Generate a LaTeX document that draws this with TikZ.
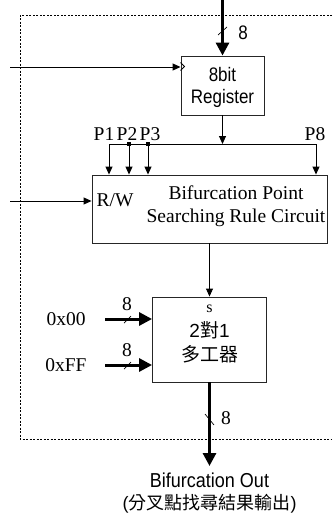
\documentclass[tikz,border=0pt]{standalone}
\usepackage{fontspec}
\setmainfont{Liberation Serif}
\newfontfamily\arialf{Liberation Sans}
\newfontfamily\cjkf{Noto Sans CJK TC}
\usetikzlibrary{arrows.meta,calc}
\begin{document}
\begin{tikzpicture}[x=1pt,y=-1pt,
  box/.style={draw=black!85, line width=0.9pt, inner sep=0pt},
  wire/.style={line width=0.9pt, -{Triangle[length=8pt,width=7pt]}},
  plain/.style={line width=0.9pt},
  buswire/.style={line width=3pt, -{Triangle[length=13pt,width=13pt]}},
  frame/.style={line width=0.8pt, dash pattern=on 2pt off 1.5pt},
  slash/.style={line width=0.7pt},
  serif/.style={font=\fontsize{19.5}{23}\selectfont},
  sans/.style={font=\arialf\fontsize{17}{23}\selectfont},
  lbl/.style={inner sep=0pt}
]
\useasboundingbox (0,0) rectangle (332,514);
% dashed frame (open on the right)
\draw[frame] (332,15) -- (20,15) -- (20,439) -- (332,439);

% register
\node[box, minimum width=83pt, minimum height=59pt] (reg) at (222.5,85.5) {};
\node[lbl, sans] (regt1) at (222.5,75) {\scalebox{1}[1.15]{8bit}};
\node[lbl, sans] (regt2) at (222.5,98) {\scalebox{1}[1.15]{Register}};
\draw[plain] ($(reg.north west)+(0,7)$) -- ++(4,4) -- ++(-4,4);
\coordinate (clkin) at (10,67);
\draw[wire] (clkin) -- (clkin -| reg.west);
\coordinate (tin) at (222.5,0);
\draw[buswire] (tin) -- (reg.north);
\draw[slash] (218,35) -- (227,27);
\node[lbl, sans] (n8a) at (243,33) {\scalebox{1}[1.15]{8}};

% bus
\coordinate (busm) at (222.5,144);
\coordinate (b1) at (109,144);
\coordinate (b2) at (129,144);
\coordinate (b3) at (148,144);
\coordinate (b8) at (316,144);
\draw[wire] (reg.south) -- (busm);
\draw[plain] (b1) -- (b8);

% circuit
\node[box, minimum width=235pt, minimum height=68pt] (circ) at (209.5,209) {};
\node[lbl, serif, align=center] (ctxt) at (236,206) {Bifurcation Point\\Searching Rule Circuit};
\node[lbl, serif] (rw) at (115,200) {R/W};
\coordinate (rwin) at (10,201);
\draw[wire] (rwin) -- (rwin -| circ.west);

\draw[wire] (b1) -- (b1 |- circ.north);
\draw[wire] (b2) -- (b2 |- circ.north);
\draw[wire] (b3) -- (b3 |- circ.north);
\draw[wire] (b8) -- (b8 |- circ.north);
\node[fill, inner sep=0pt, minimum size=4pt] (j2) at (b2) {};
\node[fill, inner sep=0pt, minimum size=4pt] (j3) at (b3) {};
\node[lbl, serif] (p1) at (104,134) {P1};
\node[lbl, serif] (p2) at (127,134) {P2};
\node[lbl, serif] (p3) at (150,134) {P3};
\node[lbl, serif] (p8) at (315,134) {P8};

% mux
\node[box, minimum width=114pt, minimum height=85pt] (mux) at (209.5,339.5) {};
\draw[wire] (circ.south) -- (mux.north);
\node[lbl, font=\fontsize{16}{18}\selectfont] (sel) at (209.5,309) {s};
\node[lbl] (m1) at (209.5,330) {\arialf\fontsize{19}{23}\selectfont 2{\cjkf 對}1};
\node[lbl] (m2) at (209.5,354) {\cjkf\fontsize{19}{23}\selectfont 多工器};

\node[lbl, serif] (i0) at (66,319) {0x00};
\node[lbl, serif] (iF) at (66,365) {0xFF};
\coordinate (a0) at (105,319);
\coordinate (aF) at (105,365);
\draw[buswire] (a0) -- (a0 -| mux.west);
\draw[buswire] (aF) -- (aF -| mux.west);
\draw[slash] (124,323) -- (131,316);
\draw[slash] (124,369) -- (131,362);
\node[lbl, serif] (n8b) at (127,304) {8};
\node[lbl, serif] (n8c) at (127,350) {8};

% output
\coordinate (out) at (209.5,466);
\draw[buswire] (mux.south) -- (out);
\draw[slash] (205,414) -- (214,425);
\node[lbl, serif] (n8d) at (226,418) {8};
\node[lbl, font=\arialf\fontsize{18}{22}\selectfont] (o1) at (209.5,480) {\scalebox{1}[1.12]{Bifurcation Out}};
\node[lbl] (o2) at (209.5,504) {\arialf\fontsize{18}{22}\selectfont(\cjkf 分叉點找尋結果輸出\arialf)};
\end{tikzpicture}
\end{document}
